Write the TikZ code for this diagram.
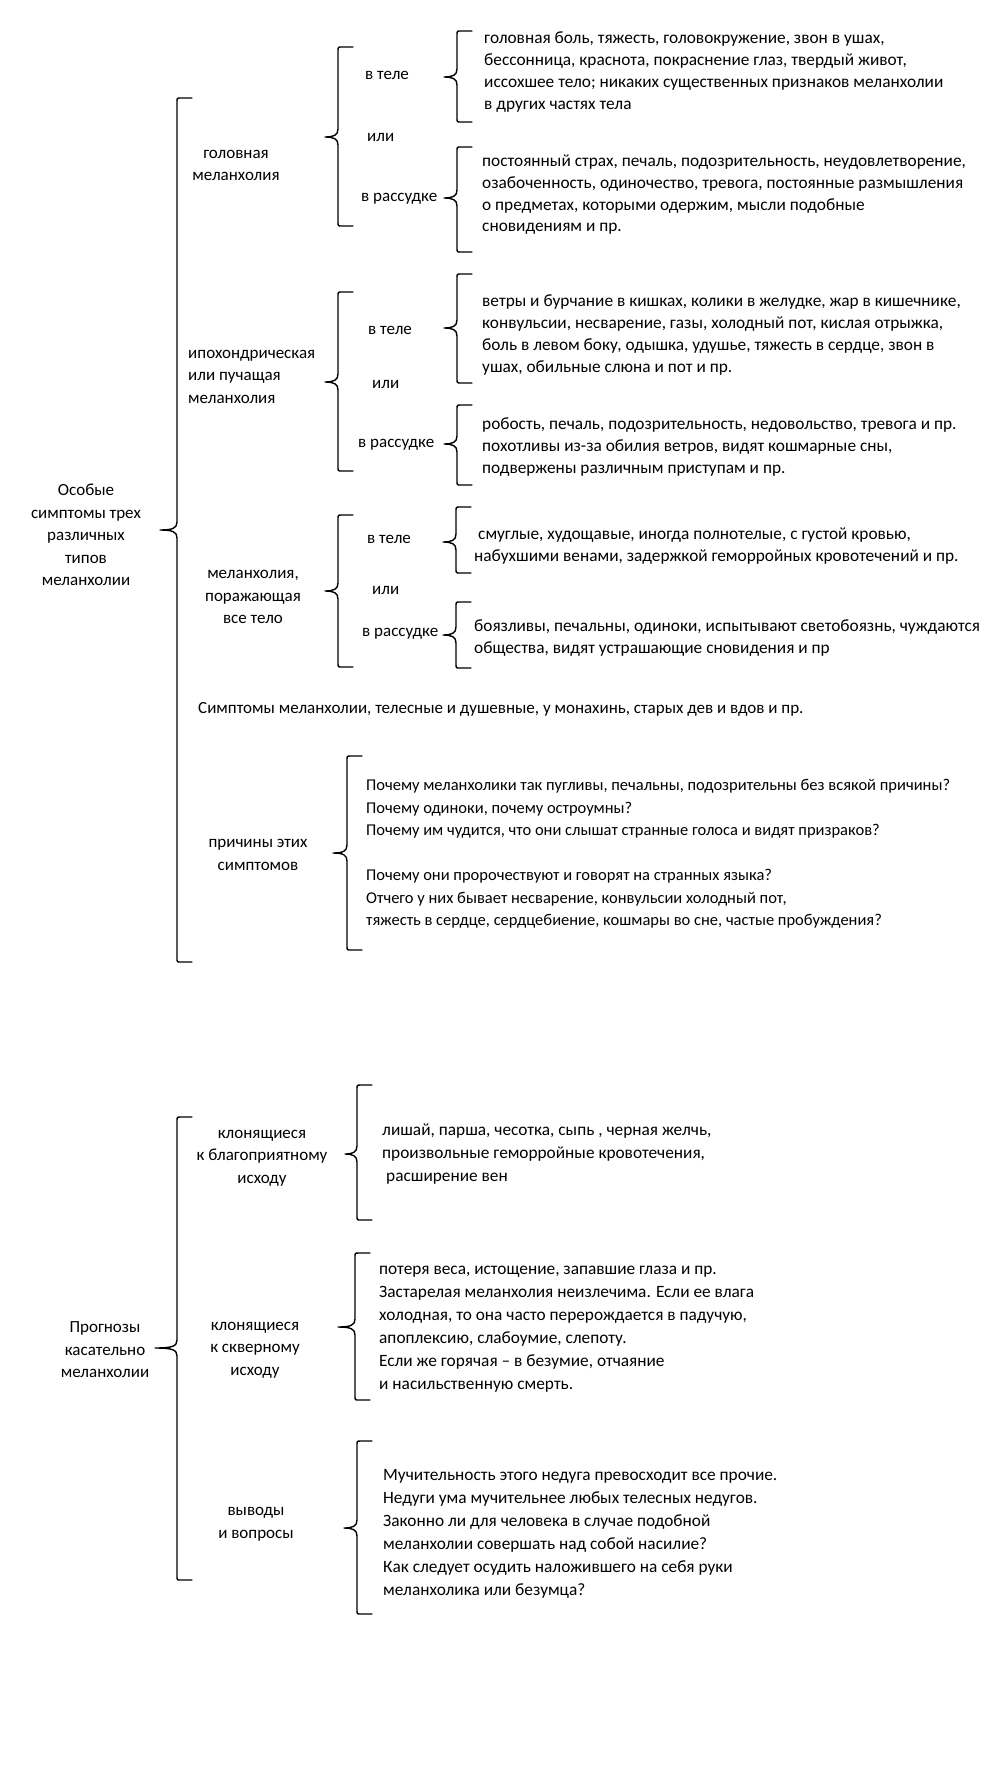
\documentclass[tikz,border=0pt]{standalone}
\usepackage{fontspec}
\setmainfont{Carlito}
\usepackage{tikz}
% square brace with a tip: [tip length]{x}{top}{tip}{bottom}
\newcommand{\brak}[5][13]{%
  \draw[brk] ({#2+15},{#3}) -- ({#2+4},{#3}) .. controls ({#2},{#3}) .. ({#2},{#3+4})
    -- ({#2},{#4-8}) .. controls ({#2},{#4-2}) and ({#2-4},{#4}) .. ({#2-#1},{#4})
    .. controls ({#2-4},{#4}) and ({#2},{#4+2}) .. ({#2},{#4+8})
    -- ({#2},{#5-4}) .. controls ({#2},{#5}) .. ({#2+4},{#5}) -- ({#2+15},{#5});}

\begin{document}
\begin{tikzpicture}[x=1pt, y=-1pt,
  lbl/.style={font=\fontsize{17}{22.5}\selectfont, align=center, inner sep=0pt},
  txt/.style={font=\fontsize{17.3}{21.7}\selectfont, align=left, anchor=west, inner sep=0pt},
  qst/.style={font=\fontsize{16.5}{22.5}\selectfont, align=left, anchor=west, inner sep=0pt},
  prg/.style={font=\fontsize{17.3}{23}\selectfont, align=left, anchor=west, inner sep=0pt},
  brk/.style={line width=1.4pt, line cap=round, line join=round}
]
\useasboundingbox (0,0) rectangle (1005,1774);

% ---- особые симптомы
\node[lbl] (root1) at (86,535) {Особые\\симптомы трех\\различных\\типов\\меланхолии};
\brak[17]{177}{98}{530}{962}

\node[lbl] (g1) at (236,165.5) {головная\\меланхолия};
\brak{338}{47}{137}{226}
\node[lbl, anchor=west] (g1b)  at (365,75)  {в теле};
\node[lbl, anchor=west] (g1or) at (367,137) {или};
\node[lbl, anchor=west] (g1m)  at (361,199) {в рассудке};
\brak{457}{31}{77}{122}
\brak{457}{147}{198}{252}
\node[txt] (t1b) at (484,72) {головная боль, тяжесть, головокружение, звон в ушах,\\
  бессонница, краснота, покраснение глаз, твердый живот,\\
  иссохшее тело; никаких существенных признаков меланхолии\\
  в других частях тела};
\node[txt] (t1m) at (482,195) {постоянный страх, печаль, подозрительность, неудовлетворение,\\
  озабоченность, одиночество, тревога, постоянные размышления\\
  о предметах, которыми одержим, мысли подобные\\
  сновидениям и пр.};

\node[lbl, anchor=west, align=left] (g2) at (188,376.5) {ипохондрическая\\или пучащая\\меланхолия};
\brak{338}{292}{382}{471}
\node[lbl, anchor=west] (g2b)  at (368,330) {в теле};
\node[lbl, anchor=west] (g2or) at (372,384) {или};
\node[lbl, anchor=west] (g2m)  at (358,445) {в рассудке};
\brak{457}{274}{328}{383}
\brak{457}{405}{444}{485}
\node[txt] (t2b) at (482,335) {ветры и бурчание в кишках, колики в желудке, жар в кишечнике,\\
  конвульсии, несварение, газы, холодный пот, кислая отрыжка,\\
  боль в левом боку, одышка, удушье, тяжесть в сердце, звон в\\
  ушах, обильные слюна и пот и пр.};
\node[txt] (t2m) at (482,447) {робость, печаль, подозрительность, недовольство, тревога и пр.\\
  похотливы из-за обилия ветров, видят кошмарные сны,\\
  подвержены различным приступам и пр.};

\node[lbl] (g3) at (253,597) {меланхолия,\\поражающая\\все тело};
\brak{338}{515}{591}{667}
\node[lbl, anchor=west] (g3b)  at (367,539) {в теле};
\node[lbl, anchor=west] (g3or) at (372,590) {или};
\node[lbl, anchor=west] (g3m)  at (362,634) {в рассудке};
\brak{456}{507}{542}{573}
\brak{456}{602}{635}{668}
\node[txt] (t3b) at (474,546) {\hspace{4pt}смуглые, худощавые, иногда полнотелые, с густой кровью,\\
  набухшими венами, задержкой геморройных кровотечений и пр.};
\node[txt] (t3m) at (474,638) {боязливы, печальны, одиноки, испытывают светобоязнь, чуждаются\\
  общества, видят устрашающие сновидения и пр};

\node[qst, font=\fontsize{17}{22}\selectfont] (sym) at (198,709) {Симптомы меланхолии, телесные и душевные, у монахинь, старых дев и вдов и пр.};

\node[lbl] (g4) at (258,855) {причины этих\\симптомов};
\brak[14]{347}{756}{853}{950}
\node[qst] (t4) at (366,854) {Почему меланхолики так пугливы, печальны, подозрительны без всякой причины?\\
  Почему одиноки, почему остроумны?\\
  Почему им чудится, что они слышат странные голоса и видят призраков?\\[22.5pt]
  Почему они пророчествуют и говорят на странных языка?\\
  Отчего у них бывает несварение, конвульсии холодный пот,\\
  тяжесть в сердце, сердцебиение, кошмары во сне, частые пробуждения?};

% ---- прогнозы
\node[lbl] (root2) at (105,1350) {Прогнозы\\касательно\\меланхолии};
\brak[22]{177}{1117}{1348}{1580}

\node[lbl] (p1) at (262,1158) {клонящиеся\\к благоприятному\\исходу};
\brak[12]{357}{1085}{1154}{1220}
\node[prg] (q1) at (382,1154.5) {лишай, парша, чесотка, сыпь , черная желчь,\\
  произвольные геморройные кровотечения,\\
  \hspace{4pt}расширение вен};

\node[lbl] (p2) at (255,1350) {клонящиеся\\к скверному\\исходу};
\brak[17]{355}{1253}{1327}{1400}
\node[prg] (q2) at (379,1329) {потеря веса, истощение, запавшие глаза и пр.\\
  Застарелая меланхолия неизлечима. Если ее влага\\
  холодная, то она часто перерождается в падучую,\\
  апоплексию, слабоумие, слепоту.\\
  Если же горячая – в безумие, отчаяние\\
  и насильственную смерть.};

\node[lbl] (p3) at (256,1524) {выводы\\и вопросы};
\brak[13]{357}{1441}{1528}{1614}
\node[prg] (q3) at (383,1533.5) {Мучительность этого недуга превосходит все прочие.\\
  Недуги ума мучительнее любых телесных недугов.\\
  Законно ли для человека в случае подобной\\
  меланхолии совершать над собой насилие?\\
  Как следует осудить наложившего на себя руки\\
  меланхолика или безумца?};
\end{tikzpicture}
\end{document}
